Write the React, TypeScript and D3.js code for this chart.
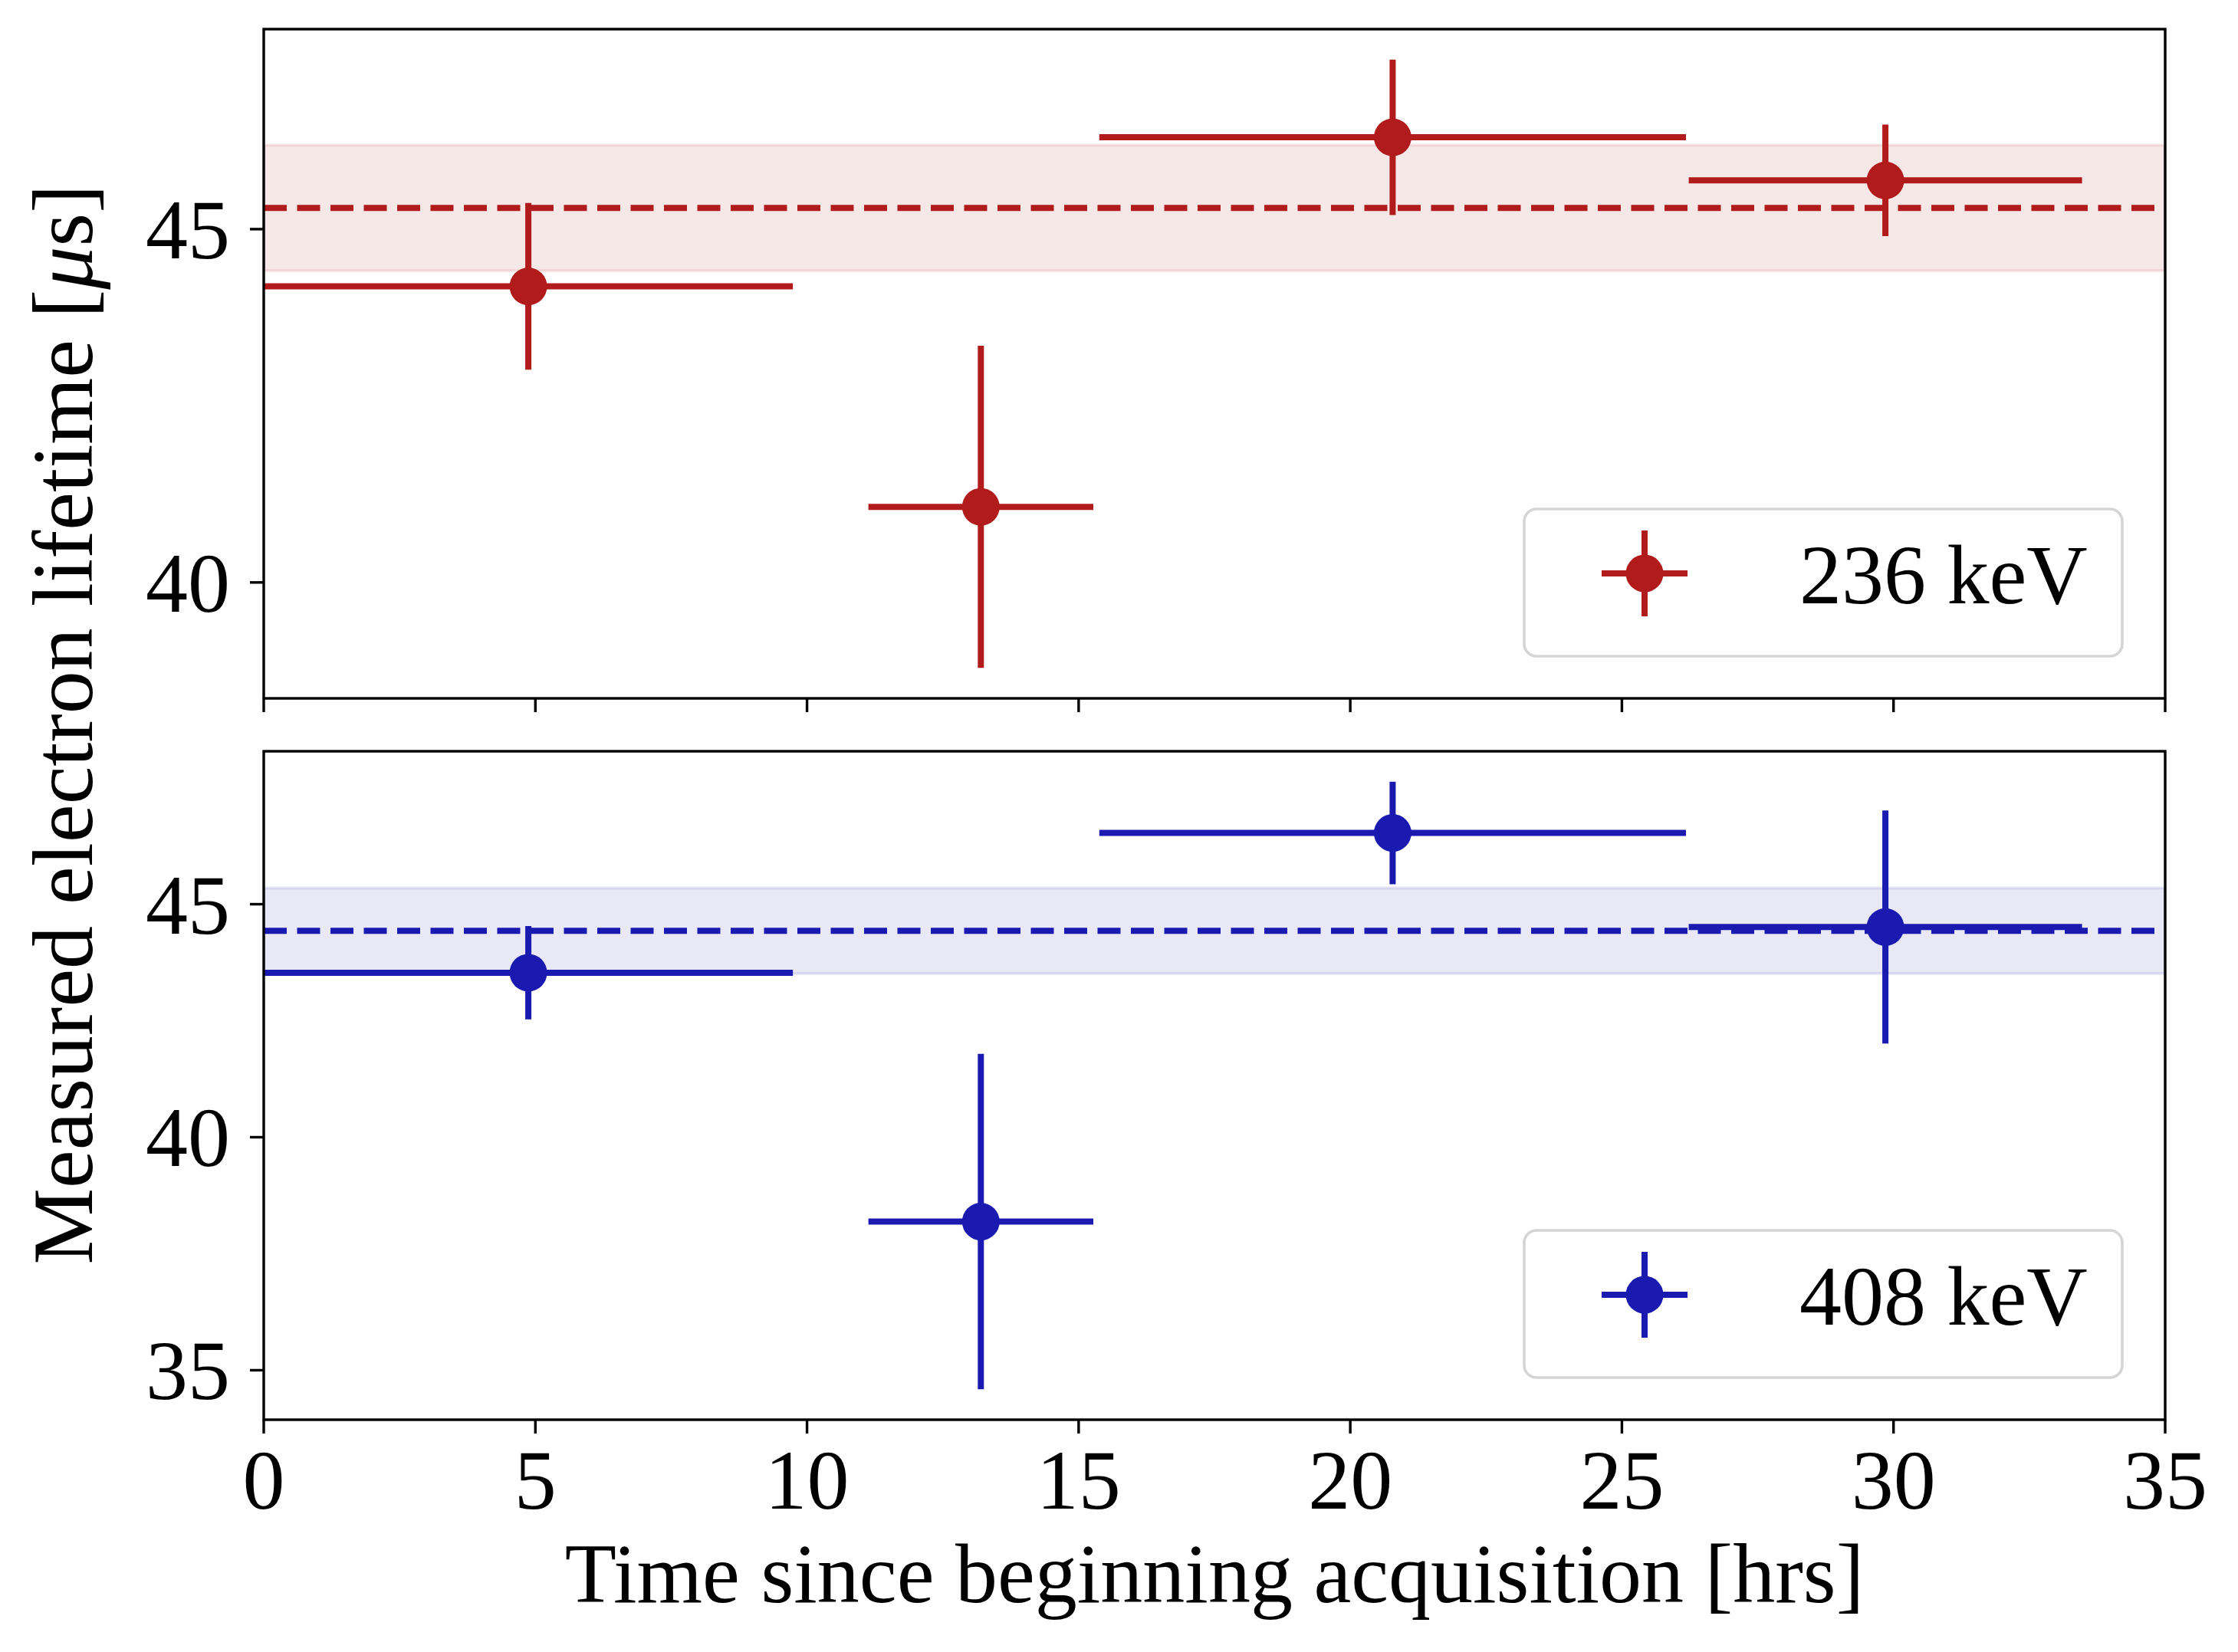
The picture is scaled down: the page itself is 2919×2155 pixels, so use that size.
import React, { useEffect } from "react";
import * as d3 from "d3";

// ---------- data ----------
const timeCenters = [4.87, 13.2, 20.78, 29.85];
const timeHalfWidths = [4.87, 2.07, 5.4, 3.62];

const lifetime236 = [44.19, 41.07, 46.3, 45.69];
const lifetime236Err = [1.18, 2.28, 1.1, 0.79];
const mean236 = 45.3;
const mean236Err = 0.89;

const lifetime408 = [43.53, 38.19, 46.53, 44.51];
const lifetime408Err = [1.0, 3.6, 1.1, 2.5];
const mean408 = 44.43;
const mean408Err = 0.92;

const xTicks = [0, 5, 10, 15, 20, 25, 30, 35];
const yTicksTop = [40, 45];
const yTicksBottom = [35, 40, 45];

const labels = ["236 keV", "408 keV"];
const xLabel = "Time since beginning acquisition [hrs]";

// ---------- layout ----------
const W = 2919;
const H = 2155;
const LEFT = 344;
const RIGHT = 2824;
const FONT = "'Liberation Serif', 'Times New Roman', 'DejaVu Serif', serif";
const FS = 110;
const RED = "#b21b1b";
const BLUE = "#1a1ab0";

function paddedDomain(vals: number[], errs: number[]): [number, number] {
  const lo = d3.min(vals.map((v, i) => v - errs[i])) as number;
  const hi = d3.max(vals.map((v, i) => v + errs[i])) as number;
  const m = (hi - lo) * 0.05;
  return [lo - m, hi + m];
}

const xScale = d3.scaleLinear().domain([0, 35]).range([LEFT, RIGHT]);

type PanelProps = {
  top: number;
  bottom: number;
  values: number[];
  errs: number[];
  mean: number;
  meanErr: number;
  color: string;
  yTicks: number[];
  label: string;
  showXLabels: boolean;
};

function Panel(p: PanelProps) {
  const y = d3.scaleLinear().domain(paddedDomain(p.values, p.errs)).range([p.bottom, p.top]);
  const lw = 8;
  const r = 24.5;
  const legH = 192;
  const legBottom = p.bottom - 55;
  const legTop = legBottom - legH;
  const legX = 1988;
  const legW = 780;
  const mx = 2145;
  const my = legTop + 84;
  const clipId = "clip" + p.top;
  return (
    <g>
      <defs>
        <clipPath id={clipId}>
          <rect x={LEFT} y={p.top} width={RIGHT - LEFT} height={p.bottom - p.top} />
        </clipPath>
      </defs>
      <g clipPath={`url(#${clipId})`}>
        <rect
          x={xScale(0)}
          y={y(p.mean + p.meanErr)}
          width={xScale(35) - xScale(0)}
          height={y(p.mean - p.meanErr) - y(p.mean + p.meanErr)}
          fill={p.color}
          fillOpacity={0.1}
          stroke={p.color}
          strokeOpacity={0.1}
          strokeWidth={4}
        />
        <line
          x1={xScale(0)}
          x2={xScale(35)}
          y1={y(p.mean)}
          y2={y(p.mean)}
          stroke={p.color}
          strokeWidth={lw}
          strokeDasharray="30 13.5"
        />
        {p.values.map((v, i) => (
          <g key={i}>
            <line
              x1={xScale(timeCenters[i] - timeHalfWidths[i])}
              x2={xScale(timeCenters[i] + timeHalfWidths[i])}
              y1={y(v)}
              y2={y(v)}
              stroke={p.color}
              strokeWidth={lw}
            />
            <line
              x1={xScale(timeCenters[i])}
              x2={xScale(timeCenters[i])}
              y1={y(v - p.errs[i])}
              y2={y(v + p.errs[i])}
              stroke={p.color}
              strokeWidth={lw}
            />
            <circle cx={xScale(timeCenters[i])} cy={y(v)} r={r} fill={p.color} />
          </g>
        ))}
      </g>
      {/* spines */}
      <rect
        x={LEFT}
        y={p.top}
        width={RIGHT - LEFT}
        height={p.bottom - p.top}
        fill="none"
        stroke="#000"
        strokeWidth={3.4}
      />
      {/* x ticks */}
      {xTicks.map((t) => (
        <g key={"x" + t}>
          <line x1={xScale(t)} x2={xScale(t)} y1={p.bottom} y2={p.bottom + 18} stroke="#000" strokeWidth={3.4} />
          {p.showXLabels && (
            <text x={xScale(t)} y={p.bottom + 116} textAnchor="middle" fontFamily={FONT} fontSize={FS} fill="#000">
              {t}
            </text>
          )}
        </g>
      ))}
      {/* y ticks */}
      {p.yTicks.map((t) => (
        <g key={"y" + t}>
          <line x1={LEFT - 18} x2={LEFT} y1={y(t)} y2={y(t)} stroke="#000" strokeWidth={3.4} />
          <text x={LEFT - 44} y={y(t) + 38} textAnchor="end" fontFamily={FONT} fontSize={FS} fill="#000">
            {t}
          </text>
        </g>
      ))}
      {/* legend */}
      <rect
        x={legX}
        y={legTop}
        width={legW}
        height={legH}
        rx={16}
        ry={16}
        fill="#fff"
        fillOpacity={0.8}
        stroke="#d5d5d5"
        strokeWidth={3.6}
      />
      <line x1={mx - 56} x2={mx + 56} y1={my} y2={my} stroke={p.color} strokeWidth={lw} />
      <line x1={mx} x2={mx} y1={my - 56} y2={my + 56} stroke={p.color} strokeWidth={lw} />
      <circle cx={mx} cy={my} r={r} fill={p.color} />
      <text x={2347} y={my + 39} fontFamily={FONT} fontSize={FS} fill="#000">
        {p.label}
      </text>
    </g>
  );
}

export default function App() {
  useEffect(() => {
    document.body.style.margin = "0";
  }, []);
  return (
    <svg width={W} height={H} viewBox={`0 0 ${W} ${H}`} style={{ display: "block", background: "#fff" }}>
      <rect x={0} y={0} width={W} height={H} fill="#fff" />
      <Panel
        top={38}
        bottom={911}
        values={lifetime236}
        errs={lifetime236Err}
        mean={mean236}
        meanErr={mean236Err}
        color={RED}
        yTicks={yTicksTop}
        label={labels[0]}
        showXLabels={false}
      />
      <Panel
        top={980}
        bottom={1852}
        values={lifetime408}
        errs={lifetime408Err}
        mean={mean408}
        meanErr={mean408Err}
        color={BLUE}
        yTicks={yTicksBottom}
        label={labels[1]}
        showXLabels={true}
      />
      <text x={(LEFT + RIGHT) / 2} y={2090} textAnchor="middle" fontFamily={FONT} fontSize={FS} fill="#000">
        {xLabel}
      </text>
      <text
        transform="translate(120,945) rotate(-90)"
        textAnchor="middle"
        fontFamily={FONT}
        fontSize={112}
        fill="#000"
      >
        Measured electron lifetime [<tspan fontStyle="italic">μ</tspan>s]
      </text>
    </svg>
  );
}
